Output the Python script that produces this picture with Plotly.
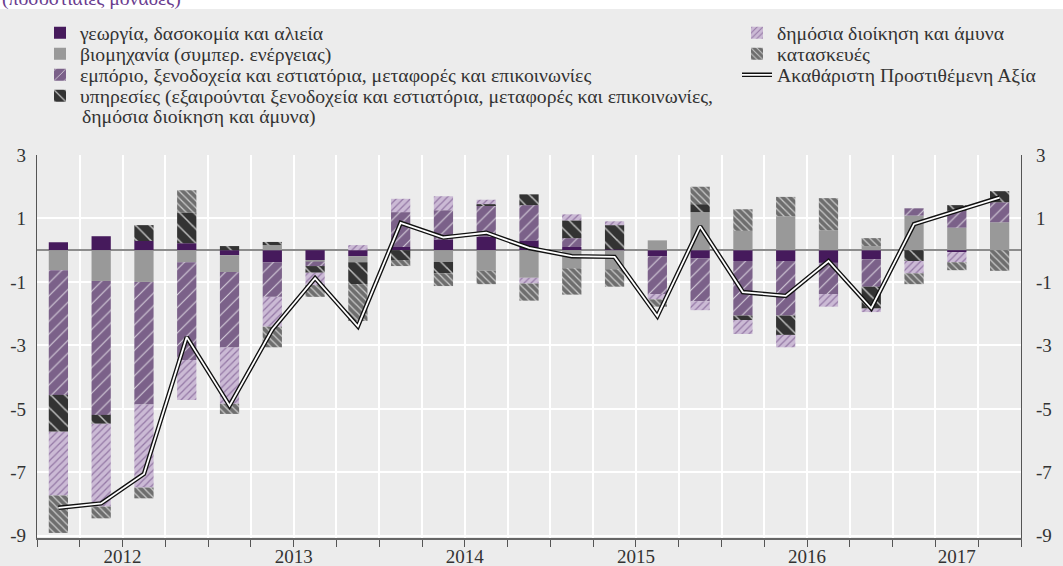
import plotly.graph_objects as go

# ---------------- data ----------------
quarters = ["2012Q1", "2012Q2", "2012Q3", "2012Q4",
            "2013Q1", "2013Q2", "2013Q3", "2013Q4",
            "2014Q1", "2014Q2", "2014Q3", "2014Q4",
            "2015Q1", "2015Q2", "2015Q3", "2015Q4",
            "2016Q1", "2016Q2", "2016Q3", "2016Q4",
            "2017Q1", "2017Q2", "2017Q3"]
years = ["2012", "2013", "2014", "2015", "2016", "2017"]

agri = [0.25, 0.44, 0.29, 0.22, -0.16, -0.38, -0.31, -0.19, 0.10, 0.34, 0.42, 0.31,
        0.10, 0.02, -0.19, -0.26, -0.34, -0.34, -0.40, -0.29, 0.00, -0.06, 0.00]
industry = [-0.63, -0.97, -1.00, -0.38, -0.53, 0.16, -0.05, -0.19, 0.00, -0.37, -0.65, -0.87,
            -0.57, -0.60, 0.31, 1.20, 0.61, 1.07, 0.63, 0.13, 1.09, 0.71, 0.88]
trade = [-3.93, -4.22, -3.86, -3.08, -2.38, -1.09, -0.14, 0.00, 1.10, 0.92, 1.00, 1.11,
         0.28, 0.00, -1.19, -1.35, -1.72, -1.72, -0.98, -0.86, 0.23, 0.53, 0.63]
services = [-1.16, -0.28, 0.50, 0.97, 0.13, 0.10, -0.21, -0.69, -0.31, -0.36, 0.03, 0.34,
            0.56, 0.77, 0.00, 0.25, -0.14, -0.61, 0.00, -0.69, -0.34, 0.18, 0.35]
public = [-2.01, -2.61, -2.62, -1.26, -1.77, -0.94, -0.39, 0.16, 0.42, 0.44, 0.14, -0.18,
          0.19, 0.12, -0.17, -0.28, -0.44, -0.39, -0.40, -0.11, -0.39, -0.32, 0.00]
construction = [-1.18, -0.37, -0.34, 0.70, -0.32, -0.65, -0.37, -1.16, -0.19, -0.40, -0.42, -0.54,
                -0.83, -0.55, -0.23, 0.55, 0.68, 0.61, 1.01, 0.25, -0.34, -0.25, -0.65]
gva = [-8.12, -7.98, -7.05, -2.74, -4.90, -2.50, -0.88, -2.40, 0.86, 0.40, 0.55, 0.07,
       -0.19, -0.21, -2.08, 0.75, -1.32, -1.44, -0.34, -1.83, 0.82, 1.24, 1.66]

ytick_vals = [-9, -7, -5, -3, -1, 1, 3]
ytick_text = ["-9", "-7", "-5", "-3", "-1", "1", "3"]

n_agri = "γεωργία, δασοκομία και αλιεία"
n_ind = "βιομηχανία (συμπερ. ενέργειας)"
n_trade = "εμπόριο, ξενοδοχεία και εστιατόρια, μεταφορές και επικοινωνίες"
n_serv = "υπηρεσίες (εξαιρούνται ξενοδοχεία και εστιατόρια, μεταφορές και επικοινωνίες,"
n_serv_cont = "δημόσια διοίκηση και άμυνα)"
n_pub = "δημόσια διοίκηση και άμυνα"
n_con = "κατασκευές"
n_gva = "Ακαθάριστη Προστιθέμενη Αξία"
subtitle = "(ποσοστιαίες μονάδες)"

# ---------------- geometry helpers ----------------
W, H = 1063, 566
ML, MR, MT, MB = 37, 42, 155, 28
PW, PH = W - ML - MR, H - MT - MB


def py(p):
    return 1 + (MT - p) / PH


def pxx(p):
    return (p - ML) / PW


FONT = "Liberation Serif"
FS = 19
LFS = 19.7
BG = "#ECECEC"
TXT = "#333333"

xpos = list(range(len(quarters)))
boundaries = [i - 0.5 for i in range(len(quarters) + 1)]
year_pos = []
for y in years:
    idx = [i for i, q in enumerate(quarters) if q.startswith(y)]
    year_pos.append(sum(idx) / len(idx))

fig = go.Figure()


def add_bar(name, vals, color, legend, pattern=None):
    marker = dict(color=color, line=dict(width=0))
    if pattern:
        marker["pattern"] = pattern
    fig.add_trace(go.Bar(x=xpos, y=vals, name=name, marker=marker,
                         width=0.45, legend=legend))


add_bar(n_agri, agri, "#461A5C", "legend")
add_bar(n_ind, industry, "#999999", "legend2")
add_bar(n_trade, trade, "#7B6189", "legend3",
        dict(shape="/", fgcolor="rgba(255,255,255,0.7)", bgcolor="#7B6189",
             size=9, solidity=0.12, fillmode="replace"))
add_bar(n_serv, services, "#333333", "legend4",
        dict(shape="\\", fgcolor="#BDBDBD", bgcolor="#333333",
             size=10, solidity=0.15, fillmode="replace"))
add_bar(n_pub, public, "#CBBAD5", "legend5",
        dict(shape="/", fgcolor="#9579A6", bgcolor="#CBBAD5",
             size=5, solidity=0.25, fillmode="replace"))
add_bar(n_con, construction, "#6E6E6E", "legend6",
        dict(shape="\\", fgcolor="#C9C9C9", bgcolor="#6E6E6E",
             size=5, solidity=0.25, fillmode="replace"))

# double line: dark outline + white core (core on overlaying axes, drawn on top)
fig.add_trace(go.Scatter(x=xpos, y=gva, mode="lines", name=n_gva,
                         line=dict(color="#111111", width=4.5), legend="legend7"))
fig.add_trace(go.Scatter(x=xpos, y=gva, mode="lines", name=n_gva,
                         line=dict(color="#FFFFFF", width=1.8), legend="legend8",
                         xaxis="x2", yaxis="y2"))

xr = [-0.5, len(quarters) - 0.5]
yr = [-9.07, 3]

LX_LEFT, LX_RIGHT = 40, 737
ROWS = [33, 54, 75, 96, 117]


def leg(xp, row, color=TXT):
    return dict(x=pxx(xp), y=py(row), xanchor="left", yanchor="middle",
                font=dict(family=FONT, size=LFS, color=color),
                bgcolor="rgba(0,0,0,0)", borderwidth=0, orientation="v")


fig.update_layout(
    width=W, height=H,
    margin=dict(l=ML, r=MR, t=MT, b=MB, pad=0),
    paper_bgcolor=BG, plot_bgcolor=BG,
    barmode="relative",
    font=dict(family=FONT, size=FS, color=TXT),
    xaxis=dict(type="linear", range=xr, tickmode="array", tickvals=boundaries,
               showticklabels=False, ticks="outside", ticklen=7,
               tickcolor="#555555", tickwidth=1.3,
               showgrid=True, gridcolor="#FFFFFF", gridwidth=1.5,
               showline=True, linecolor="#666666", linewidth=1.5,
               zeroline=False, automargin=False),
    xaxis2=dict(overlaying="x", anchor="y2", side="bottom", type="linear", range=xr,
                tickmode="array", tickvals=year_pos, ticktext=years,
                ticks="", ticklabelstandoff=5,
                showgrid=False, showline=False, zeroline=False, automargin=False,
                tickfont=dict(family=FONT, size=FS, color=TXT)),
    yaxis=dict(range=yr, tickmode="array", tickvals=ytick_vals, ticktext=ytick_text,
               showgrid=True, gridcolor="#FFFFFF", gridwidth=1.5,
               zeroline=True, zerolinecolor="#8C8C8C", zerolinewidth=2,
               showline=True, linecolor="#555555", linewidth=1.3,
               ticks="", ticklabelstandoff=6, automargin=False,
               tickfont=dict(family=FONT, size=FS, color=TXT)),
    yaxis2=dict(overlaying="y", anchor="x2", side="right", range=yr,
                tickmode="array", tickvals=ytick_vals, ticktext=ytick_text,
                showgrid=False, zeroline=False,
                showline=True, linecolor="#555555", linewidth=1.3,
                ticks="", ticklabelstandoff=10, automargin=False,
                tickfont=dict(family=FONT, size=FS, color=TXT)),
    legend=leg(LX_LEFT, ROWS[0]),
    legend2=leg(LX_LEFT, ROWS[1]),
    legend3=leg(LX_LEFT, ROWS[2]),
    legend4=leg(LX_LEFT, ROWS[3]),
    legend5=leg(LX_RIGHT, ROWS[0]),
    legend6=leg(LX_RIGHT, ROWS[1]),
    legend7=leg(LX_RIGHT, ROWS[2]),
    legend8=leg(LX_RIGHT, ROWS[2], color="rgba(0,0,0,0)"),
    shapes=[dict(type="rect", xref="paper", yref="paper", layer="below",
                 x0=pxx(-5), x1=pxx(W + 5), y0=py(9), y1=py(-5),
                 fillcolor="#FFFFFF", line=dict(width=0))],
    annotations=[
        dict(text=n_serv_cont, xref="paper", yref="paper",
             x=pxx(80), y=py(ROWS[4]), xanchor="left", yanchor="middle",
             showarrow=False, font=dict(family=FONT, size=LFS, color=TXT)),
        dict(text=subtitle, xref="paper", yref="paper",
             x=pxx(0), y=py(12), xanchor="left", yanchor="bottom",
             showarrow=False, font=dict(family=FONT, size=LFS, color="#6A3D8F")),
    ],
    showlegend=True,
)

fig.write_html("out.html",
               config={"displayModeBar": False},
               post_script="document.body.style.margin='0';"
                           "document.body.style.overflow='hidden';")
